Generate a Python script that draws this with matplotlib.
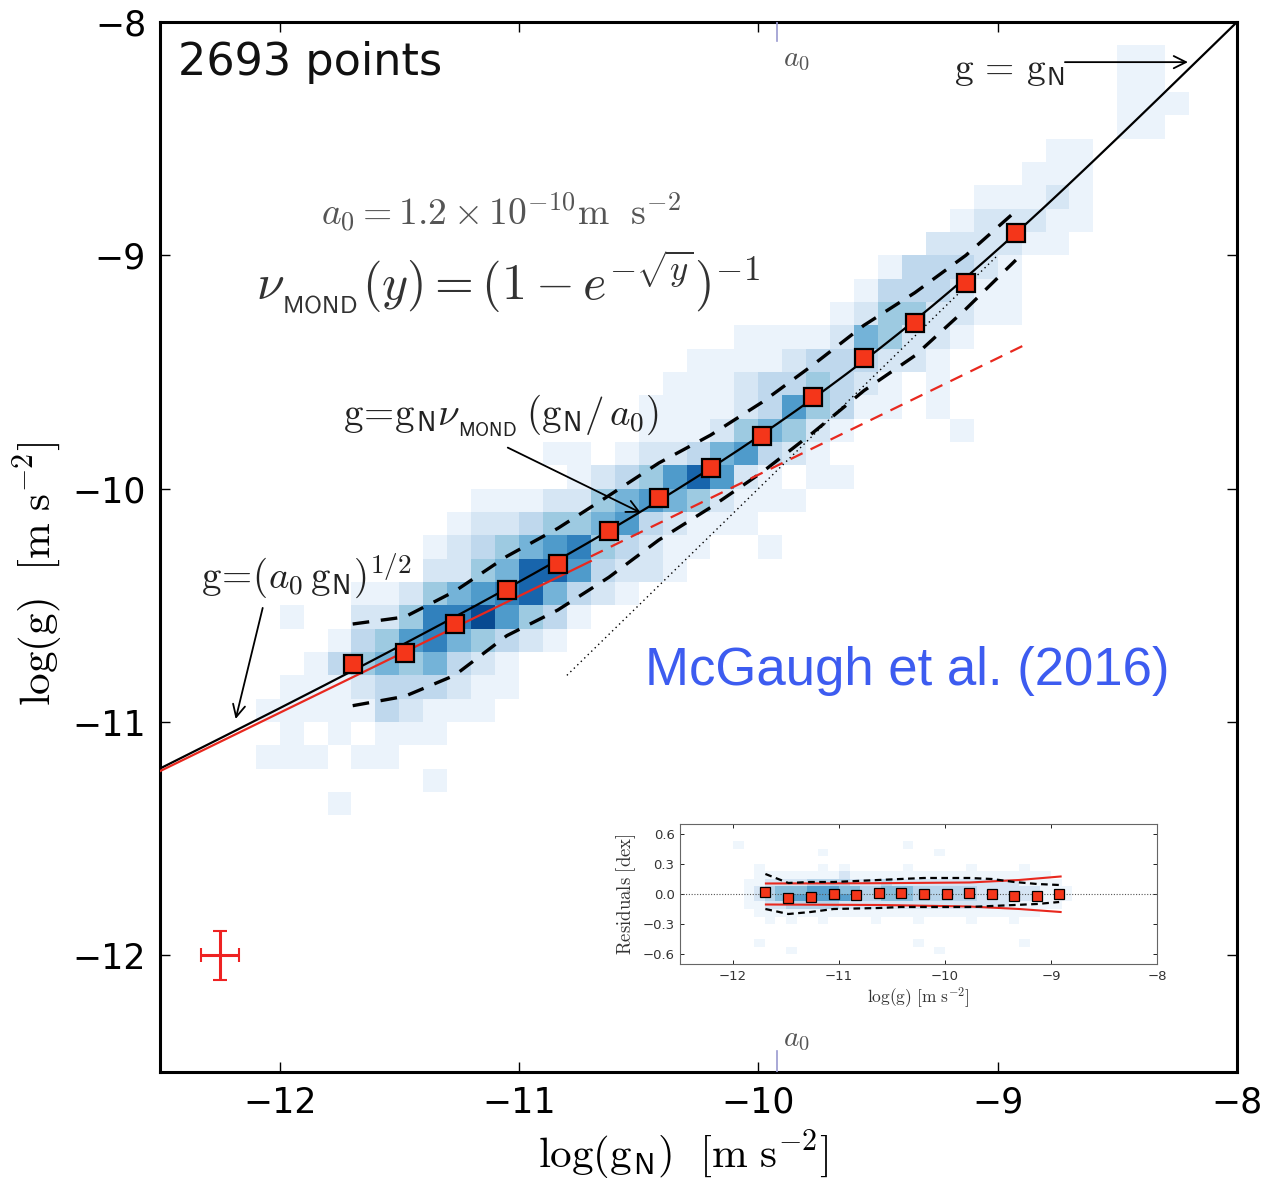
import numpy as np
import matplotlib
matplotlib.use('Agg')
import matplotlib.pyplot as plt

plt.rcParams['mathtext.fontset'] = 'cm'
plt.rcParams['font.family'] = ['DejaVu Sans']

# ---------------- data ----------------
A0 = 1.2e-10
LOG_A0 = np.log10(A0)
N_POINTS = 2693

BIN_X = [-11.695, -11.478, -11.269, -11.051, -10.838, -10.625, -10.416,
         -10.199, -9.985, -9.772, -9.559, -9.346, -9.133, -8.924]
BIN_Y = [-10.751, -10.704, -10.579, -10.433, -10.322, -10.180, -10.039,
         -9.910, -9.773, -9.609, -9.442, -9.292, -9.120, -8.906]
UPPER_Y = [-10.58, -10.55, -10.44, -10.29, -10.17, -10.03, -9.89,
           -9.77, -9.63, -9.47, -9.30, -9.16, -9.00, -8.81]
LOWER_Y = [-10.93, -10.89, -10.80, -10.63, -10.52, -10.38, -10.22,
           -10.08, -9.93, -9.76, -9.58, -9.43, -9.23, -9.02]

# 2D histogram (0.1 dex cells): (row centre y, left edge x, levels 0-9)
HEAT_ROWS = [
    (-8.15, -8.5, "11"),
    (-8.25, -8.5, "11"),
    (-8.35, -8.5, "111"),
    (-8.45, -8.5, "11"),
    (-8.55, -8.8, "11"),
    (-8.65, -8.9, "111"),
    (-8.75, -9.1, "11121"),
    (-8.85, -9.2, "122211"),
    (-8.95, -9.3, "222211"),
    (-9.05, -9.5, "133321"),
    (-9.15, -9.6, "1333211"),
    (-9.25, -9.7, "12442211"),
    (-9.35, -10.1, "1111254221"),
    (-9.45, -10.3, "11112333221"),
    (-9.55, -10.4, "111233432101"),
    (-9.65, -10.5, "1111236431101"),
    (-9.75, -10.5, "11124542100001"),
    (-9.85, -10.9, "110122356321"),
    (-9.95, -10.8, "123468621011"),
    (-10.05, -11.2, "11122456542111"),
    (-10.15, -11.3, "1223445632111"),
    (-10.25, -11.4, "123456743211001"),
    (-10.35, -11.4, "22458863221"),
    (-10.45, -11.7, "112456785321"),
    (-10.55, -12.0, "1002247796431"),
    (-10.65, -11.8, "1346754321"),
    (-10.75, -11.9, "134545321"),
    (-10.85, -12.0, "1112333211"),
    (-10.95, -12.1, "1111132111"),
    (-11.05, -12.0, "1010111"),
    (-11.15, -12.1, "111011"),
    (-11.25, -11.4, "1"),
    (-11.35, -11.8, "1"),
]

SQRT_SOLID_X = [-12.5, -10.7]
SQRT_DASH_X = [-10.7, -8.87]
ONE_TO_ONE_X = [-10.8, -9.0]
ERR_X, ERR_Y, ERR_DX, ERR_DY = -12.25, -12.0, 0.08, 0.105

# inset: residuals
RES_Y = [0.024, -0.044, -0.027, 0.0, -0.010, 0.007, 0.014, 0.0, 0.0,
         0.007, 0.0, -0.017, -0.020, 0.0]
RES_UP = [0.20, 0.11, 0.12, 0.12, 0.13, 0.14, 0.15, 0.16, 0.16, 0.16,
          0.15, 0.12, 0.10, 0.09]
RES_LO = [-0.15, -0.20, -0.18, -0.15, -0.145, -0.14, -0.13, -0.13, -0.13,
          -0.13, -0.12, -0.11, -0.10, -0.08]
RED_BAND_X = [-11.69, -10.6, -9.77, -9.3, -8.91]
RED_BAND_UP = [0.105, 0.108, 0.115, 0.14, 0.175]
RED_BAND_LO = [-0.105, -0.11, -0.125, -0.15, -0.18]
INSET_ROWS = [
    (0.2625, -12.0, "00100000101000001000001000010000000"),
    (0.1875, -12.0, "00111111112111111111111111111100000"),
    (0.1125, -12.0, "01122223333222322222222222211110000"),
    (0.0375, -12.0, "01234445554433444333333222222111000"),
    (-0.0375, -12.0, "01234555555433444333333222222111000"),
    (-0.1125, -12.0, "01122333332222222222222222111110000"),
    (-0.1875, -12.0, "00111111111111111111111111111000000"),
    (-0.2625, -12.0, "00010100100001000100001000100000000"),
    (0.4875, -12.0, "1000000000000000100000000000000000"),
    (0.4125, -12.0, "0000000010000000000100000000000000"),
    (-0.4875, -12.0, "0010000000000000010000000001000000"),
    (-0.5625, -12.0, "0000010000000000000100000000000000"),
]

# ---------------- figure ----------------
fig = plt.figure(figsize=(12.69, 11.83), dpi=100)
ax = fig.add_axes([0.1261, 0.0938, 0.8487, 0.8876])


def build_grid(rows, x0, x1, y0, y1, dx, dy):
    nx = int(round((x1 - x0) / dx))
    ny = int(round((y1 - y0) / dy))
    xe = x0 + dx * np.arange(nx + 1)
    ye = y0 + dy * np.arange(ny + 1)
    Z = np.zeros((ny, nx))
    for yc, xl, s in rows:
        r = int(round((yc - y0) / dy - 0.5))
        c0 = int(round((xl - x0) / dx))
        for k, ch in enumerate(s):
            if 0 <= r < ny and 0 <= c0 + k < nx:
                Z[r, c0 + k] = int(ch)
    return xe, ye, Z


xe, ye, Z = build_grid(HEAT_ROWS, -12.3, -8.2, -11.4, -8.1, 0.1, 0.1)
C = np.ma.masked_invalid(np.where(Z > 0, 0.06 + 0.105 * (Z - 1), np.nan))
ax.pcolormesh(xe, ye, C, cmap='Blues', vmin=0, vmax=1, shading='flat',
              zorder=1, edgecolors='none')

# MOND relation
xg = np.linspace(-12.5, -8.0, 500)
gN = 10.0 ** xg
yg = np.log10(gN / (1.0 - np.exp(-np.sqrt(gN / A0))))
ax.plot(xg, yg, color='black', lw=1.6, zorder=4)

# deep-MOND limit
xs = np.linspace(*SQRT_SOLID_X, 50)
ax.plot(xs, 0.5 * (LOG_A0 + xs), color='#e8281e', lw=1.6, zorder=5)
xd = np.linspace(*SQRT_DASH_X, 50)
ax.plot(xd, 0.5 * (LOG_A0 + xd) + 0.02, color='#e8281e', lw=1.6,
        dashes=(6, 4), zorder=5)

# 1:1 line (dotted)
ax.plot(ONE_TO_ONE_X, ONE_TO_ONE_X, color='black', lw=1.0,
        linestyle=(0, (1, 2.5)), zorder=3)

# dispersion dashes
ax.plot(BIN_X, UPPER_Y, color='black', lw=2.4, dashes=(5, 3.5), zorder=4)
ax.plot(BIN_X, LOWER_Y, color='black', lw=2.4, dashes=(5, 3.5), zorder=4)

# binned means
ax.plot(BIN_X, BIN_Y, linestyle='none', marker='s', ms=13,
        mfc='#f4361a', mec='black', mew=1.6, zorder=6)

# error cross
ax.errorbar(ERR_X, ERR_Y, xerr=ERR_DX, yerr=ERR_DY, color='#ee2222',
            lw=2.2, capsize=5, capthick=1.5, zorder=6)

# a0 markers
ax.plot([LOG_A0, LOG_A0], [-8.0, -8.08], color='#9a9ad0', lw=1.2, zorder=3)
ax.plot([LOG_A0, LOG_A0], [-12.5, -12.41], color='#9a9ad0', lw=1.2, zorder=3)
ax.text(-9.84, -8.16, r'$a_0$', fontsize=21, color='#555555',
        ha='center', va='center')
ax.text(-9.84, -12.36, r'$a_0$', fontsize=21, color='#555555',
        ha='center', va='center')

ax.set_xlim(-12.5, -8.0)
ax.set_ylim(-12.5, -8.0)
ax.set_xticks([-12, -11, -10, -9, -8])
ax.set_yticks([-12, -11, -10, -9, -8])
ax.tick_params(direction='in', length=7, width=1.0, labelsize=25,
               top=True, right=True, pad=10)
for sp in ax.spines.values():
    sp.set_linewidth(2.2)

ax.set_xlabel(r'$\log(\mathrm{g}_{\mathsf{N}})\ \ [\mathrm{m\ s}^{-2}]$',
              fontsize=31)
ax.xaxis.set_label_coords(0.486, -0.053)
ax.set_ylabel(r'$\log(\mathrm{g})\ \ [\mathrm{m\ s}^{-2}]$', fontsize=31)
ax.yaxis.set_label_coords(-0.088, 0.475)

# texts
ax.text(-12.426, -8.172, f'{N_POINTS} points', fontsize=32, ha='left',
        va='center', color='#111111')
ax.text(-11.074, -8.815, r'$a_0 = 1.2\times10^{-10}\mathrm{m\ \ s}^{-2}$',
        fontsize=27, ha='center', va='center', color='#555555')
ax.text(-11.047, -9.12,
        r'$\nu_{_{\mathsf{MOND}}}(y) = (1 - e^{-\sqrt{y}})^{-1}$',
        fontsize=36, ha='center', va='center', color='#333333')
ax.text(-11.076, -9.687,
        r'$\mathrm{g}\!\mathbf{=}\!\mathrm{g}_{\mathsf{N}}\nu_{_{\mathsf{MOND}}}\,(\mathrm{g}_{\mathsf{N}}/\,a_0)$',
        fontsize=28, ha='center', va='center', color='#222222')
ax.text(-11.887, -10.373,
        r'$\mathrm{g}\!\mathbf{=}\!(a_0\,\mathrm{g}_{\mathsf{N}})^{1/2}$',
        fontsize=28, ha='center', va='center', color='#222222')
ax.text(-8.953, -8.206, r'$\mathrm{g}\,\mathbf{=}\,\mathrm{g}_{\mathsf{N}}$',
        fontsize=27, ha='center', va='center', color='#222222')
ax.text(-9.379, -10.781, 'McGaugh et al. (2016)', fontsize=38,
        family='Liberation Sans', color='#3d5cf0', ha='center', va='center')

arrow = dict(arrowstyle='->', color='black', lw=1.3,
             shrinkA=0, shrinkB=0, mutation_scale=22)
ax.annotate('', xy=(-8.205, -8.172), xytext=(-8.719, -8.172),
            arrowprops=arrow, zorder=7)
ax.annotate('', xy=(-10.491, -10.103), xytext=(-11.047, -9.824),
            arrowprops=arrow, zorder=7)
ax.annotate('', xy=(-12.184, -10.987), xytext=(-12.071, -10.511),
            arrowprops=arrow, zorder=7)

# ---------------- inset ----------------
ia = fig.add_axes([0.5359, 0.1851, 0.3759, 0.1184])
ixe, iye, IZ = build_grid(INSET_ROWS, -12.0, -8.5, -0.6, 0.6, 0.1, 0.075)
IC = np.ma.masked_invalid(np.where(IZ > 0, 0.04 + 0.13 * (IZ - 1), np.nan))
ia.pcolormesh(ixe, iye, IC, cmap='Blues', vmin=0, vmax=1, shading='flat',
              zorder=1, edgecolors='none')
ia.axhline(0, color='#555555', lw=0.8, linestyle=(0, (1, 1.5)), zorder=2)
ia.plot(RED_BAND_X, RED_BAND_UP, color='#e8281e', lw=1.5, zorder=3)
ia.plot(RED_BAND_X, RED_BAND_LO, color='#e8281e', lw=1.5, zorder=3)
ia.plot(BIN_X, RES_UP, color='black', lw=1.6, dashes=(3, 2), zorder=3)
ia.plot(BIN_X, RES_LO, color='black', lw=1.6, dashes=(3, 2), zorder=3)
ia.plot(BIN_X, RES_Y, linestyle='none', marker='s', ms=7.5,
        mfc='#f4361a', mec='black', mew=0.9, zorder=4)
ia.set_xlim(-12.5, -8.0)
ia.set_ylim(-0.7, 0.7)
ia.set_xticks([-12, -11, -10, -9, -8])
ia.set_yticks([-0.6, -0.3, 0.0, 0.3, 0.6])
ia.set_yticklabels(['\u22120.6', '\u22120.3', '0.0', '0.3', '0.6'])
ia.tick_params(direction='in', length=3, width=0.6, labelsize=9.5,
               labelcolor='#333333', top=True, right=True, pad=4)
for sp in ia.spines.values():
    sp.set_linewidth(0.8)
    sp.set_color('#666666')
ia.set_xlabel(r'$\log(\mathrm{g})\ [\mathrm{m\ s}^{-2}]$', fontsize=12.5,
              labelpad=2, color='#333333')
ia.set_ylabel(r'$\mathrm{Residuals\ [dex]}$', fontsize=13.5, labelpad=3,
              color='#333333')

fig.savefig('out.png', dpi=100)
